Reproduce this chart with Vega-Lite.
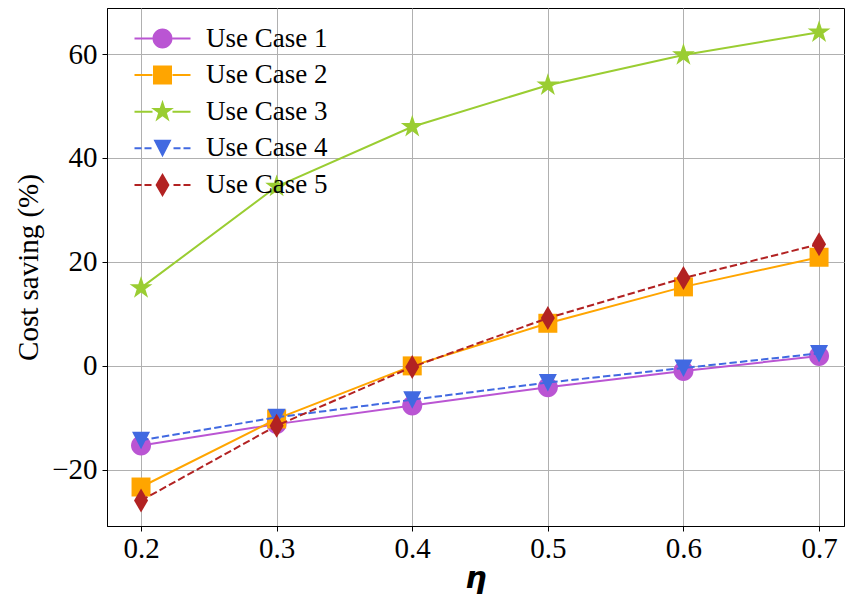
{
  "$schema": "https://vega.github.io/schema/vega-lite/v6.json",
  "autosize": {"type": "none"},
  "width": 737,
  "height": 518,
  "padding": {"left": 107, "top": 8, "right": 1, "bottom": 73},
  "background": "white",
  "config": {
    "view": {"stroke": "black", "strokeWidth": 1},
    "axis": {
      "gridColor": "#b0b0b0", "gridWidth": 1, "gridOpacity": 1,
      "domainColor": "black", "domainWidth": 1,
      "tickColor": "black", "tickSize": 5, "tickWidth": 1,
      "labelFont": "Liberation Serif", "labelFontSize": 29, "labelColor": "black",
      "titleColor": "black"
    },
    "legend": {"labelFont": "Liberation Serif"}
  },
  "data": {"values": [
    {"eta": 0.2, "series": "Use Case 1", "saving": -15.3},
    {"eta": 0.3, "series": "Use Case 1", "saving": -11.2},
    {"eta": 0.4, "series": "Use Case 1", "saving": -7.6},
    {"eta": 0.5, "series": "Use Case 1", "saving": -4.1},
    {"eta": 0.6, "series": "Use Case 1", "saving": -1.0},
    {"eta": 0.7, "series": "Use Case 1", "saving": 1.9},
    {"eta": 0.2, "series": "Use Case 2", "saving": -23.3},
    {"eta": 0.3, "series": "Use Case 2", "saving": -10.2},
    {"eta": 0.4, "series": "Use Case 2", "saving": 0.0},
    {"eta": 0.5, "series": "Use Case 2", "saving": 8.2},
    {"eta": 0.6, "series": "Use Case 2", "saving": 15.2},
    {"eta": 0.7, "series": "Use Case 2", "saving": 20.9},
    {"eta": 0.2, "series": "Use Case 3", "saving": 15.0},
    {"eta": 0.3, "series": "Use Case 3", "saving": 34.5},
    {"eta": 0.4, "series": "Use Case 3", "saving": 46.0},
    {"eta": 0.5, "series": "Use Case 3", "saving": 54.0},
    {"eta": 0.6, "series": "Use Case 3", "saving": 59.8},
    {"eta": 0.7, "series": "Use Case 3", "saving": 64.2},
    {"eta": 0.2, "series": "Use Case 4", "saving": -14.3},
    {"eta": 0.3, "series": "Use Case 4", "saving": -9.9},
    {"eta": 0.4, "series": "Use Case 4", "saving": -6.5},
    {"eta": 0.5, "series": "Use Case 4", "saving": -3.2},
    {"eta": 0.6, "series": "Use Case 4", "saving": -0.4},
    {"eta": 0.7, "series": "Use Case 4", "saving": 2.4},
    {"eta": 0.2, "series": "Use Case 5", "saving": -25.9},
    {"eta": 0.3, "series": "Use Case 5", "saving": -11.5},
    {"eta": 0.4, "series": "Use Case 5", "saving": -0.2},
    {"eta": 0.5, "series": "Use Case 5", "saving": 9.2},
    {"eta": 0.6, "series": "Use Case 5", "saving": 16.9},
    {"eta": 0.7, "series": "Use Case 5", "saving": 23.4}
  ]},
  "encoding": {
    "x": {
      "field": "eta", "type": "quantitative",
      "scale": {"domain": [0.1749, 0.7184], "nice": false, "zero": false},
      "axis": {
        "values": [0.2, 0.3, 0.4, 0.5, 0.6, 0.7], "format": ".1f",
        "labelPadding": 3,
        "title": "η", "titleFont": "DejaVu Sans", "titleFontSize": 30,
        "titleFontWeight": "bold", "titleFontStyle": "italic", "titlePadding": 0
      }
    },
    "y": {
      "field": "saving", "type": "quantitative",
      "scale": {"domain": [-30.8, 68.85], "nice": false, "zero": false},
      "axis": {
        "values": [-20, 0, 20, 40, 60],
        "labelPadding": 5,
        "title": "Cost saving (%)", "titleFont": "Liberation Serif", "titleFontSize": 29,
        "titleFontWeight": "normal", "titlePadding": 8
      }
    },
    "color": {
      "field": "series", "type": "nominal",
      "scale": {
        "domain": ["Use Case 1", "Use Case 2", "Use Case 3", "Use Case 4", "Use Case 5"],
        "range": ["#BA55D3", "#FFA500", "#9ACD32", "#4169E1", "#B22222"]
      },
      "legend": {
        "orient": "none", "legendX": 42, "legendY": 17, "title": null,
        "symbolSize": 400, "labelOffset": 30, "labelFont": "Liberation Serif",
        "labelFontSize": 27, "labelColor": "black", "rowPadding": 8.6, "padding": 0,
        "encode": {
          "symbols": {
            "update": {
              "shape": {"signal": "datum.value === 'Use Case 1' ? 'M-2.8,-0.1L-1,-0.1L-1,0.1L-2.8,0.1ZM1,-0.1L2.8,-0.1L2.8,0.1L1,0.1ZM-1,0A1,1,0,1,0,1,0A1,1,0,1,0,-1,0Z' : datum.value === 'Use Case 2' ? 'M-2.8,-0.1L-1,-0.1L-1,0.1L-2.8,0.1ZM1,-0.1L2.8,-0.1L2.8,0.1L1,0.1ZM-0.95,-0.95L0.95,-0.95L0.95,0.95L-0.95,0.95Z' : datum.value === 'Use Case 3' ? 'M-2.8,-0.1L-1,-0.1L-1,0.1L-2.8,0.1ZM1,-0.1L2.8,-0.1L2.8,0.1L1,0.1ZM0,-1.2L0.269,-0.371L1.141,-0.371L0.436,0.142L0.705,0.971L0,0.458L-0.705,0.971L-0.436,0.142L-1.141,-0.371L-0.269,-0.371Z' : datum.value === 'Use Case 4' ? 'M-2.8,-0.1L-2.1,-0.1L-2.1,0.1L-2.8,0.1ZM-1.8,-0.1L-1.1,-0.1L-1.1,0.1L-1.8,0.1ZM1.1,-0.1L1.8,-0.1L1.8,0.1L1.1,0.1ZM2.1,-0.1L2.8,-0.1L2.8,0.1L2.1,0.1ZM-0.9,-0.85L0.9,-0.85L0,0.9Z' : 'M-2.8,-0.1L-2.1,-0.1L-2.1,0.1L-2.8,0.1ZM-1.8,-0.1L-1.1,-0.1L-1.1,0.1L-1.8,0.1ZM1.1,-0.1L1.8,-0.1L1.8,0.1L1.1,0.1ZM2.1,-0.1L2.8,-0.1L2.8,0.1L2.1,0.1ZM0,-1.2L0.7,0L0,1.2L-0.7,0Z'"},
              "fill": {"signal": "datum.value === 'Use Case 1' ? '#BA55D3' : datum.value === 'Use Case 2' ? '#FFA500' : datum.value === 'Use Case 3' ? '#9ACD32' : datum.value === 'Use Case 4' ? '#4169E1' : '#B22222'"},
              "stroke": {"value": "transparent"},
              "strokeWidth": {"value": 0},
              "strokeDash": {"value": [1, 0]},
              "opacity": {"value": 1},
              "fillOpacity": {"value": 1}
            }
          }
        }
      }
    }
  },
  "layer": [
    {
      "transform": [{"filter": {"field": "series", "equal": "Use Case 1"}}],
      "layer": [
        {"mark": {"type": "line", "strokeWidth": 2}, "encoding": {}},
        {"mark": {"type": "point", "filled": true, "opacity": 1, "size": 400, "shape": "M-1,0A1,1,0,1,0,1,0A1,1,0,1,0,-1,0Z"}, "encoding": {}}
      ]
    },
    {
      "transform": [{"filter": {"field": "series", "equal": "Use Case 2"}}],
      "layer": [
        {"mark": {"type": "line", "strokeWidth": 2}, "encoding": {}},
        {"mark": {"type": "point", "filled": true, "opacity": 1, "size": 400, "shape": "M-0.95,-0.95L0.95,-0.95L0.95,0.95L-0.95,0.95Z"}, "encoding": {}}
      ]
    },
    {
      "transform": [{"filter": {"field": "series", "equal": "Use Case 3"}}],
      "layer": [
        {"mark": {"type": "line", "strokeWidth": 2}, "encoding": {}},
        {"mark": {"type": "point", "filled": true, "opacity": 1, "size": 400, "shape": "M0,-1.2L0.269,-0.371L1.141,-0.371L0.436,0.142L0.705,0.971L0,0.458L-0.705,0.971L-0.436,0.142L-1.141,-0.371L-0.269,-0.371Z"}, "encoding": {}}
      ]
    },
    {
      "transform": [{"filter": {"field": "series", "equal": "Use Case 4"}}],
      "layer": [
        {"mark": {"type": "line", "strokeWidth": 2, "strokeDash": [7.4, 3.2]}, "encoding": {}},
        {"mark": {"type": "point", "filled": true, "opacity": 1, "size": 400, "shape": "M-0.9,-0.85L0.9,-0.85L0,0.9Z"}, "encoding": {}}
      ]
    },
    {
      "transform": [{"filter": {"field": "series", "equal": "Use Case 5"}}],
      "layer": [
        {"mark": {"type": "line", "strokeWidth": 2, "strokeDash": [7.4, 3.2]}, "encoding": {}},
        {"mark": {"type": "point", "filled": true, "opacity": 1, "size": 400, "shape": "M0,-1.2L0.7,0L0,1.2L-0.7,0Z"}, "encoding": {}}
      ]
    }
  ]
}
